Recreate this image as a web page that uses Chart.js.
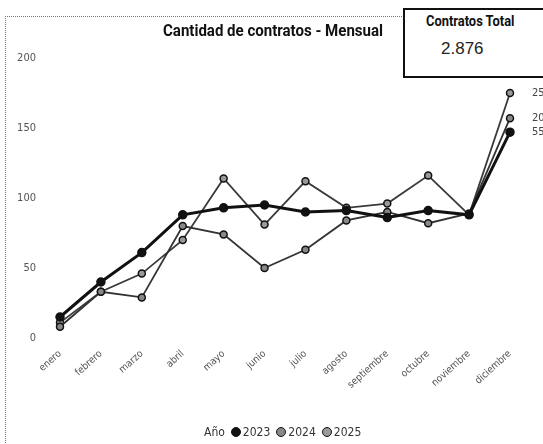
<!DOCTYPE html>
<html>
<head>
<meta charset="utf-8">
<script src="https://cdn.jsdelivr.net/npm/chart.js@4.4.1/dist/chart.umd.min.js"></script>
<style>
  html, body { margin: 0; padding: 0; background: #fff; }
  #wrap { position: relative; width: 543px; height: 444px; overflow: hidden; font-family: 'Roboto', sans-serif; }
  #frame { position: absolute; left: 5px; top: 16px; width: 400px; height: 430px; border-top: 1px dotted #777; border-left: 1px dotted #777; }
  #title { position: absolute; left: 163px; top: 21px; font-size: 16px; font-weight: bold; color: #111; transform: scaleX(0.94); transform-origin: left top; }
  #kpi { position: absolute; left: 403px; top: 8px; width: 150px; height: 66px; border: 2px solid #111; background: #fff; }
  #kpi .lbl { position: absolute; left: 21px; top: 3px; font-size: 14px; font-weight: bold; color: #111; transform: scaleX(0.92); transform-origin: left top; }
  #kpi .val { position: absolute; left: 36px; top: 29px; font-size: 17px; color: #222; font-family: 'Liberation Sans', sans-serif; }
  #legend { position: absolute; left: 204px; top: 425px; font-size: 12px; color: #333; font-family: 'DejaVu Sans Condensed', 'DejaVu Sans', sans-serif; white-space: nowrap; }
  #legend span.dot { display: inline-block; width: 8px; height: 8px; border-radius: 50%; margin: 0 2px 0 6px; vertical-align: -1px; }
  canvas { position: absolute; left: 0; top: 0; }
</style>
</head>
<body>
<div id="wrap">
  <div id="frame"></div>
  <canvas id="c" width="543" height="444"></canvas>
  <div id="title">Cantidad de contratos - Mensual</div>
  <div id="kpi"><div class="lbl">Contratos Total</div><div class="val">2.876</div></div>
  <div id="legend"></div>
</div>
<script>
const months = ['enero', 'febrero', 'marzo', 'abril', 'mayo', 'junio', 'julio', 'agosto', 'septiembre', 'octubre', 'noviembre', 'diciembre'];
const years = ['2023', '2024', '2025'];
const values2023 = [15, 40, 61, 88, 93, 95, 90, 91, 86, 91, 88, 147];
const values2024 = [8, 33, 29, 80, 74, 50, 63, 84, 90, 82, 89, 157];
const values2025 = [11, 33, 46, 70, 114, 81, 112, 93, 96, 116, 88, 175];
const endLabels = ['55', '20', '25'];
const yTicks = [0, 50, 100, 150, 200];

const lineColors = ['#111', '#333', '#3a3a3a'];
const pointFills = ['#111', '#888', '#999'];

// small labels next to the last point of each line (cut by the page edge)
const endLabelPlugin = {
    id: 'endLabels',
    afterDatasetsDraw(chart) {
        const ctx = chart.ctx;
        ctx.save();
        ctx.font = '11px "DejaVu Sans Condensed", sans-serif';
        ctx.fillStyle = '#444';
        ctx.textBaseline = 'middle';
        chart.data.datasets.forEach((ds, i) => {
            const pts = chart.getDatasetMeta(i).data;
            const p = pts[pts.length - 1];
            ctx.fillText(endLabels[i], p.x + 22, p.y);
        });
        ctx.restore();
    },
};

const datasets = [values2023, values2024, values2025].map((vals, i) => ({
    label: years[i],
    data: vals,
    borderColor: lineColors[i],
    borderWidth: i === 0 ? 3 : 1.8,
    pointRadius: i === 0 ? 4 : 3.5,
    pointBackgroundColor: pointFills[i],
    pointBorderColor: '#111',
    pointBorderWidth: 1.5,
    tension: 0,
}));

new Chart(document.getElementById('c'), {
    type: 'line',
    data: { labels: months, datasets },
    options: {
        responsive: false,
        animation: false,
        layout: { padding: { left: 10, right: 33, top: 58, bottom: 0 } },
        plugins: {
            legend: { display: false },
            tooltip: { enabled: false },
        },
        scales: {
            x: {
                offset: false,
                grid: { display: false },
                border: { display: false },
                ticks: {
                    color: '#555',
                    font: { size: 10, family: "'DejaVu Sans Condensed', sans-serif" },
                    minRotation: 42,
                    maxRotation: 42,
                    autoSkip: false,
                    padding: 2,
                },
                afterFit(s) { s.height = 106; },
            },
            y: {
                min: 0,
                max: 200,
                grid: { display: false },
                border: { display: false },
                afterBuildTicks(s) { s.ticks = yTicks.map(v => ({ value: v })); },
                ticks: {
                    color: '#555',
                    font: { size: 11, family: "'DejaVu Sans Condensed', sans-serif" },
                    padding: 16,
                },
                afterFit(s) { s.width = 50; },
            },
        },
    },
    plugins: [endLabelPlugin],
});

// legend in the Power BI style: "Año ● 2023 ● 2024 ● 2025"
const legend = document.getElementById('legend');
legend.innerHTML = 'Año' + years.map((y, i) =>
    `<span class="dot" style="background:${pointFills[i]};border:1px solid #111"></span>${y}`).join('');
</script>
</body>
</html>
